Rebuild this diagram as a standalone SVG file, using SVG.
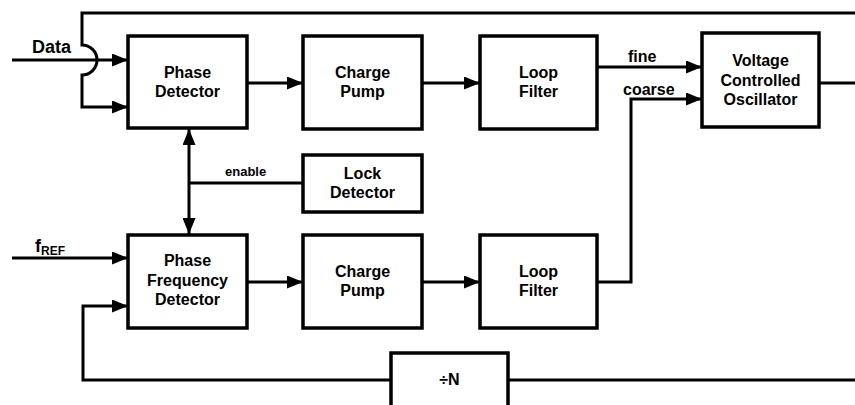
<svg xmlns="http://www.w3.org/2000/svg" width="855" height="405" viewBox="0 0 855 405">
<defs>
<style>
.box{fill:#fff;stroke:#000;stroke-width:3.5}
.ln{fill:none;stroke:#000;stroke-width:3}
.t{font-family:"Liberation Sans",Arial,sans-serif;font-weight:bold;font-size:16px;text-anchor:middle;fill:#000}
.lbl{font-family:"Liberation Sans",Arial,sans-serif;font-weight:bold;fill:#000}
</style>
<marker id="arr" markerUnits="userSpaceOnUse" markerWidth="17" markerHeight="13" refX="16" refY="6.5" orient="auto-start-reverse" viewBox="0 0 17 13">
<path d="M0,0 L16,6.5 L0,13 z" fill="#000"/>
</marker>
</defs>
<rect width="855" height="405" fill="#fff"/>
<g id="connectors">
<path class="ln" d="M855,13 H82 V45 A15,15 0 0 1 82,75 V107 H128" marker-end="url(#arr)"/>
<path class="ln" d="M12,60 H128" marker-end="url(#arr)"/>
<path class="ln" d="M247,83 H303" marker-end="url(#arr)"/>
<path class="ln" d="M422,83 H480" marker-end="url(#arr)"/>
<path class="ln" d="M597,67 H702" marker-end="url(#arr)"/>
<path class="ln" d="M597,282 H631 V99 H702" marker-end="url(#arr)"/>
<path class="ln" d="M819,83 H855"/>
<path class="ln" d="M189,129 V234" marker-start="url(#arr)" marker-end="url(#arr)"/>
<path class="ln" d="M189,183 H303"/>
<path class="ln" d="M12,258 H128" marker-end="url(#arr)"/>
<path class="ln" d="M247,282 H303" marker-end="url(#arr)"/>
<path class="ln" d="M422,282 H480" marker-end="url(#arr)"/>
<path class="ln" d="M855,380 H508"/>
<path class="ln" d="M391,380 H83 V306 H128" marker-end="url(#arr)"/>
</g>
<g id="labels">
<text class="lbl" x="32" y="53" font-size="18">Data</text>
<text class="lbl" x="628" y="62" font-size="16">fine</text>
<text class="lbl" x="623" y="95" font-size="16">coarse</text>
<text class="lbl" x="225" y="176" font-size="13">enable</text>
<text class="lbl" x="35" y="252" font-size="18">f<tspan font-size="12" dy="3">REF</tspan></text>
</g>
<g id="pd">
<rect class="box" x="128" y="36" width="119" height="92"/>
<text class="t" x="187.5" y="78">Phase</text>
<text class="t" x="187.5" y="97">Detector</text>
</g>
<g id="cp1">
<rect class="box" x="303" y="36" width="119" height="93"/>
<text class="t" x="362.5" y="78">Charge</text>
<text class="t" x="362.5" y="97">Pump</text>
</g>
<g id="lf1">
<rect class="box" x="480" y="36" width="117" height="93"/>
<text class="t" x="538.5" y="78">Loop</text>
<text class="t" x="538.5" y="97">Filter</text>
</g>
<g id="vco">
<rect class="box" x="702" y="33" width="117" height="94"/>
<text class="t" x="760.5" y="66">Voltage</text>
<text class="t" x="760.5" y="86">Controlled</text>
<text class="t" x="760.5" y="105">Oscillator</text>
</g>
<g id="ld">
<rect class="box" x="303" y="155" width="119" height="57"/>
<text class="t" x="362.5" y="179">Lock</text>
<text class="t" x="362.5" y="198">Detector</text>
</g>
<g id="pfd">
<rect class="box" x="128" y="235" width="119" height="93"/>
<text class="t" x="187.5" y="266">Phase</text>
<text class="t" x="187.5" y="286">Frequency</text>
<text class="t" x="187.5" y="305">Detector</text>
</g>
<g id="cp2">
<rect class="box" x="303" y="235" width="119" height="93"/>
<text class="t" x="362.5" y="277">Charge</text>
<text class="t" x="362.5" y="296">Pump</text>
</g>
<g id="lf2">
<rect class="box" x="480" y="235" width="117" height="93"/>
<text class="t" x="538.5" y="277">Loop</text>
<text class="t" x="538.5" y="296">Filter</text>
</g>
<g id="divn">
<rect class="box" x="391" y="353" width="117" height="70"/>
<text class="t" x="449.5" y="385" font-size="14">÷N</text>
</g>
</svg>
